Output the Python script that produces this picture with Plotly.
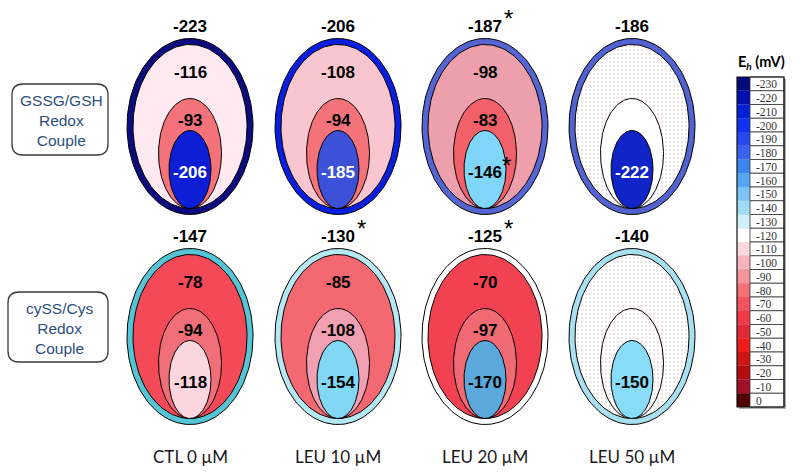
import numpy as np
import plotly.graph_objects as go

# ---------------- data ----------------
conditions = ["CTL 0 µM", "LEU 10 µM", "LEU 20 µM", "LEU 50 µM"]
couples = ["GSSG/GSH<br>Redox<br>Couple", "cySS/Cys<br>Redox<br>Couple"]

gsh_outer = [-223, -206, -187, -186]
gsh_layer1 = [-116, -108, -98, None]
gsh_layer2 = [-93, -94, -83, None]
gsh_layer3 = [-206, -185, -146, -222]
gsh_sig_outer = [False, False, True, False]
gsh_sig_layer3 = [False, False, True, False]

cys_outer = [-147, -130, -125, -140]
cys_layer1 = [-78, -85, -70, None]
cys_layer2 = [-94, -108, -97, None]
cys_layer3 = [-118, -154, -170, -150]
cys_sig_outer = [False, True, True, False]
cys_sig_layer3 = [False, False, False, False]

scale_levels = [-230, -220, -210, -200, -190, -180, -170, -160, -150, -140, -130, -120,
                -110, -100, -90, -80, -70, -60, -50, -40, -30, -20, -10, 0]

# ---------------- styles ----------------
scale_colors = ["#000a7a", "#0010b0", "#0020d8", "#1030f0", "#2848f0", "#3a62f0", "#3a85ee",
                "#55a6f2", "#7cc4f6", "#a0dcf6", "#cdf0fa", "#ffffff", "#fcd8e0", "#f8b4bc",
                "#f4949c", "#f27278", "#f05460", "#f03848", "#e02838", "#f01c1c", "#d01414",
                "#b40c0c", "#a01028", "#500000"]

ring_colors = [["#0c0c80", "#0a1ee0", "#5565d4", "#5262d0"],
               ["#55c5d5", "#b5e8f2", "#ffffff", "#a8e0f0"]]
layer1_colors = [["#fde9ef", "#f9c5cf", "#eda0ac", None],
                 ["#f44a58", "#f46872", "#f24252", None]]
layer2_colors = [["#f4737b", "#f4737b", "#f2606a", "#ffffff"],
                 ["#f06e78", "#f0a0b0", "#f06a74", None]]
layer3_colors = [["#0c1fd6", "#3c50d8", "#7fd6f8", "#1024c8"],
                 ["#fcd6df", "#80d8f5", "#5aa8dc", "#88dcf8"]]
layer3_text = [["white", "white", "black", "white"],
               ["black", "black", "black", "black"]]

COL_X = [190, 338, 485, 632]
ROW_Y = [126.5, 336.5]
A_OUT, B_OUT, RING = 63, 88, 6
A_MID, B_MID = 31.5, 55
A_IN, B_IN = 21, 39

NUM_FONT = dict(family="Liberation Sans, Arial", size=17, color="black", weight="bold")

rows = [
    (gsh_outer, gsh_layer1, gsh_layer2, gsh_layer3, gsh_sig_outer, gsh_sig_layer3),
    (cys_outer, cys_layer1, cys_layer2, cys_layer3, cys_sig_outer, cys_sig_layer3),
]

fig = go.Figure()
annotations = []
shapes = []

theta = np.linspace(0, 2 * np.pi, 161)


def ellipse(cx, cy, a, b, color, pattern=False):
    kw = dict(
        x=cx + a * np.cos(theta), y=cy + b * np.sin(theta),
        mode="lines", fill="toself", fillcolor=color if color else "white",
        line=dict(color="black", width=1), hoverinfo="skip", showlegend=False,
    )
    if pattern:
        kw["fillpattern"] = dict(shape=".", bgcolor="white", fgcolor="#cdb4b4",
                                 size=4, solidity=0.2)
    fig.add_trace(go.Scatter(**kw))


def label(x, y, text, color="black", xshift=0, yshift=0, font=None):
    f = dict(NUM_FONT) if font is None else dict(font)
    f["color"] = color
    annotations.append(dict(x=x, y=y, text=text, showarrow=False, font=f,
                            xanchor="center", yanchor="middle",
                            xshift=xshift, yshift=yshift))


STAR_FONT = dict(family="Liberation Sans, Arial", size=24, color="black")

for r, (outer, l1, l2, l3, sig_o, sig_3) in enumerate(rows):
    cy = ROW_Y[r]
    b_fill = B_OUT - RING
    for i, cx in enumerate(COL_X):
        ellipse(cx, cy, A_OUT, B_OUT, ring_colors[r][i])
        ellipse(cx, cy, A_OUT - RING, b_fill, layer1_colors[r][i],
                pattern=l1[i] is None)
        cy_mid = cy + b_fill - B_MID
        ellipse(cx, cy_mid, A_MID, B_MID, layer2_colors[r][i],
                pattern=(l2[i] is None and layer2_colors[r][i] is None))
        cy_in = cy + b_fill - B_IN
        ellipse(cx, cy_in, A_IN, B_IN, layer3_colors[r][i])

        label(cx, cy - 100, str(outer[i]))
        if sig_o[i]:
            label(cx, cy - 100, "*", xshift=23, yshift=8, font=STAR_FONT)
        if l1[i] is not None:
            label(cx, cy - 54, str(l1[i]))
        if l2[i] is not None:
            label(cx, cy - 6, str(l2[i]))
        label(cx, cy + 46, str(l3[i]), color=layer3_text[r][i])
        if sig_3[i]:
            label(cx, cy + 46, "*", xshift=21, yshift=7, font=STAR_FONT)

# condition labels
for i, cx in enumerate(COL_X):
    annotations.append(dict(x=cx, y=456, text=conditions[i], showarrow=False,
                            font=dict(family="Lato, Carlito, sans-serif", size=17, color="#1a1a1a"),
                            xanchor="center", yanchor="middle"))


# couple boxes
def rounded_rect(x0, y0, x1, y1, rad):
    return (f"M {x0+rad},{y0} L {x1-rad},{y0} Q {x1},{y0} {x1},{y0+rad} "
            f"L {x1},{y1-rad} Q {x1},{y1} {x1-rad},{y1} L {x0+rad},{y1} "
            f"Q {x0},{y1} {x0},{y1-rad} L {x0},{y0+rad} Q {x0},{y0} {x0+rad},{y0} Z")


box_geom = [(12, 84, 108, 155), (8, 292, 108, 362)]
for (x0, y0, x1, y1), txt in zip(box_geom, couples):
    shapes.append(dict(type="path", path=rounded_rect(x0, y0, x1, y1, 11),
                       xref="x", yref="y", line=dict(color="#3a3a3a", width=1.3),
                       fillcolor="white", layer="below"))
    annotations.append(dict(x=(x0 + x1) / 2 + 1, y=(y0 + y1) / 2 + 1, text=txt,
                            showarrow=False,
                            font=dict(family="Liberation Sans, Arial", size=15.5, color="#2c4f7c"),
                            xanchor="center", yanchor="middle", align="center"))

# colour scale legend
CB_X0, CB_XM, CB_X1 = 737, 750, 784
CB_Y0, CB_H = 77, 13.75
n = len(scale_levels)
shapes.append(dict(type="rect", x0=CB_X0 + 2, x1=CB_X1 + 2, y0=CB_Y0 + 2, y1=CB_Y0 + n * CB_H + 2,
                   xref="x", yref="y", line=dict(width=0), fillcolor="#b0b0b0", layer="below"))
for k, (lev, col) in enumerate(zip(scale_levels, scale_colors)):
    ya = CB_Y0 + k * CB_H
    shapes.append(dict(type="rect", x0=CB_X0, x1=CB_XM, y0=ya, y1=ya + CB_H, xref="x", yref="y",
                       line=dict(width=0), fillcolor=col, layer="above"))
    shapes.append(dict(type="rect", x0=CB_XM, x1=CB_X1, y0=ya, y1=ya + CB_H, xref="x", yref="y",
                       line=dict(width=0.8, color="#333333"), fillcolor="white", layer="above"))
    annotations.append(dict(x=CB_XM + 4, y=ya + CB_H / 2 + 0.5, text=str(lev), showarrow=False,
                            font=dict(family="Liberation Serif, Times New Roman", size=11.5, color="#333333"),
                            xanchor="left", yanchor="middle"))
shapes.append(dict(type="rect", x0=CB_X0, x1=CB_X1, y0=CB_Y0, y1=CB_Y0 + n * CB_H,
                   xref="x", yref="y", line=dict(width=1.2, color="#111111"),
                   fillcolor="rgba(0,0,0,0)", layer="above"))
annotations.append(dict(x=(CB_X0 + CB_X1) / 2 + 1, y=62, text="E<sub><i>h</i></sub> (mV)",
                        showarrow=False,
                        font=dict(family="Lato, Liberation Sans, sans-serif", size=14.5, color="black",
                                  weight="bold"),
                        xanchor="center", yanchor="middle"))

fig.update_layout(
    width=800, height=472,
    margin=dict(l=0, r=0, t=0, b=0),
    paper_bgcolor="white", plot_bgcolor="white",
    xaxis=dict(range=[0, 800], visible=False, fixedrange=True),
    yaxis=dict(range=[472, 0], visible=False, fixedrange=True),
    shapes=shapes, annotations=annotations,
    showlegend=False,
)

fig.write_html("out.html", config={"displayModeBar": False},
               post_script="document.body.style.margin='0px';document.body.style.overflow='hidden';")
